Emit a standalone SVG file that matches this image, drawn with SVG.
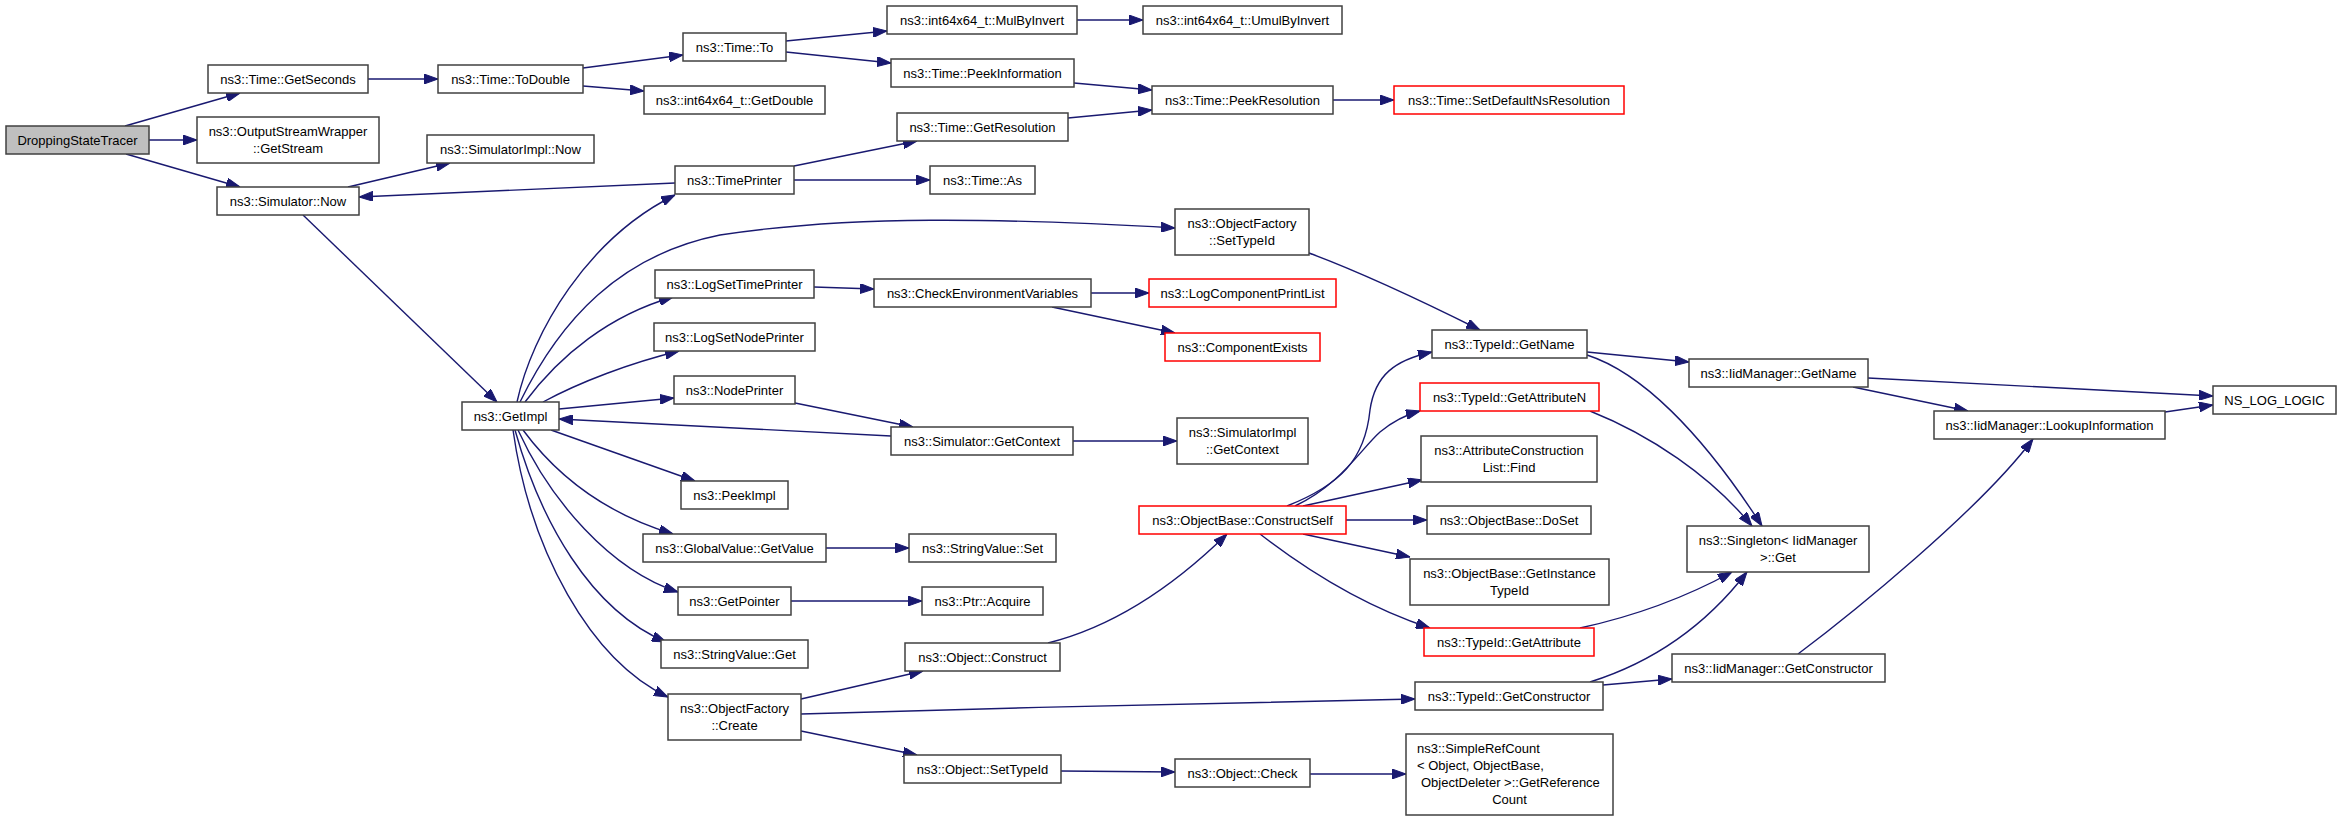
<svg xmlns="http://www.w3.org/2000/svg" width="2341" height="820" viewBox="0 0 2341 820">
<style>
rect{fill:#fff;stroke:#404040;stroke-width:1.5}
.root rect{fill:#bfbfbf}
.red rect{stroke:#ff0000}
text{font-family:"Liberation Sans",Arial,Helvetica,sans-serif;font-size:13px;text-anchor:middle;fill:#000}
.l{text-anchor:start}
#edges path{fill:none;stroke:#191970;stroke-width:1.4;marker-end:url(#a)}
</style>
<defs>
<marker id="a" markerUnits="userSpaceOnUse" markerWidth="14" markerHeight="10" viewBox="0 0 14 10" refX="14" refY="5" orient="auto">
<path d="M0,0 L14,5 L0,10 z" fill="#191970" stroke="#191970" stroke-width="1"/>
</marker>
</defs>
<rect x="0" y="0" width="2341" height="820" style="fill:#fff;stroke:none"/>
<g id="edges">
<path d="M125,126 L240,93"/>
<path d="M149,140 L197,140"/>
<path d="M126,154 L240,187"/>
<path d="M368,79 L438,79"/>
<path d="M583,68 L683,55"/>
<path d="M583,86 L644,91"/>
<path d="M786,41 L887,31"/>
<path d="M786,52 L891,63"/>
<path d="M1077,20 L1143,20"/>
<path d="M1074,83 L1152,90"/>
<path d="M1068,118 L1152,110"/>
<path d="M1333,100 L1394,100"/>
<path d="M348,187 L450,163"/>
<path d="M675,183 L359,197"/>
<path d="M303,215 L497,402"/>
<path d="M794,166 L917,141"/>
<path d="M794,180 L930,180"/>
<path d="M517,402 C532,332 588,238 675,195"/>
<path d="M520,402 C560,320 620,255 720,235 C850,215 1000,218 1175,228"/>
<path d="M525,402 C560,355 610,315 673,297"/>
<path d="M543,402 C580,382 630,363 679,351"/>
<path d="M559,409 L674,398"/>
<path d="M795,403 L913,427"/>
<path d="M891,436 L559,419"/>
<path d="M1073,441 L1177,441"/>
<path d="M551,430 L695,481"/>
<path d="M523,430 C560,480 610,515 673,534"/>
<path d="M518,430 C550,500 610,570 678,592"/>
<path d="M515,430 C540,520 590,610 666,642"/>
<path d="M513,430 C530,550 590,660 668,697"/>
<path d="M826,548 L909,548"/>
<path d="M791,601 L922,601"/>
<path d="M801,699 L923,671"/>
<path d="M801,714 C1000,708 1250,702 1415,699"/>
<path d="M801,731 L917,755"/>
<path d="M1061,771 L1175,772"/>
<path d="M1310,774 L1406,774"/>
<path d="M1048,643 C1120,625 1180,580 1227,534"/>
<path d="M814,287 L874,289"/>
<path d="M1091,293 L1149,293"/>
<path d="M1052,307 L1175,333"/>
<path d="M1309,253 C1360,272 1420,300 1480,330"/>
<path d="M1287,506 C1340,485 1365,460 1370,410 C1375,375 1395,360 1432,352"/>
<path d="M1295,506 C1340,485 1360,450 1380,432 C1392,422 1405,415 1420,411"/>
<path d="M1303,506 L1422,480"/>
<path d="M1346,520 L1427,520"/>
<path d="M1303,534 L1410,557"/>
<path d="M1260,534 C1300,565 1360,605 1430,628"/>
<path d="M1587,352 L1689,362"/>
<path d="M1587,355 C1640,372 1700,430 1762,526"/>
<path d="M1590,411 C1650,435 1710,475 1752,526"/>
<path d="M1868,378 L2213,396"/>
<path d="M1853,387 L1968,411"/>
<path d="M2165,412 L2213,405"/>
<path d="M1798,654 C1850,615 1980,510 2033,439"/>
<path d="M1603,685 L1672,679"/>
<path d="M1590,682 C1660,660 1710,620 1747,572"/>
<path d="M1580,628 C1640,615 1690,595 1732,572"/>
</g>
<g id="n0" class="root"><rect x="6" y="126" width="143" height="28"/><text x="77.5" y="144.5">DroppingStateTracer</text></g>
<g id="n1"><rect x="208" y="65" width="160" height="28"/><text x="288" y="83.5">ns3::Time::GetSeconds</text></g>
<g id="n2"><rect x="197" y="117" width="182" height="46"/><text x="288" y="135.5">ns3::OutputStreamWrapper</text><text x="288" y="152.5">::GetStream</text></g>
<g id="n3"><rect x="217" y="187" width="142" height="28"/><text x="288" y="205.5">ns3::Simulator::Now</text></g>
<g id="n4"><rect x="438" y="65" width="145" height="28"/><text x="510.5" y="83.5">ns3::Time::ToDouble</text></g>
<g id="n5"><rect x="683" y="33" width="103" height="28"/><text x="734.5" y="51.5">ns3::Time::To</text></g>
<g id="n6"><rect x="644" y="86" width="181" height="28"/><text x="734.5" y="104.5">ns3::int64x64_t::GetDouble</text></g>
<g id="n7"><rect x="427" y="135" width="167" height="28"/><text x="510.5" y="153.5">ns3::SimulatorImpl::Now</text></g>
<g id="n8"><rect x="675" y="166" width="119" height="28"/><text x="734.5" y="184.5">ns3::TimePrinter</text></g>
<g id="n9"><rect x="655" y="270" width="159" height="28"/><text x="734.5" y="288.5">ns3::LogSetTimePrinter</text></g>
<g id="n10"><rect x="654" y="323" width="161" height="28"/><text x="734.5" y="341.5">ns3::LogSetNodePrinter</text></g>
<g id="n11"><rect x="674" y="376" width="121" height="28"/><text x="734.5" y="394.5">ns3::NodePrinter</text></g>
<g id="n12"><rect x="462" y="402" width="97" height="28"/><text x="510.5" y="420.5">ns3::GetImpl</text></g>
<g id="n13"><rect x="681" y="481" width="107" height="28"/><text x="734.5" y="499.5">ns3::PeekImpl</text></g>
<g id="n14"><rect x="643" y="534" width="183" height="28"/><text x="734.5" y="552.5">ns3::GlobalValue::GetValue</text></g>
<g id="n15"><rect x="678" y="587" width="113" height="28"/><text x="734.5" y="605.5">ns3::GetPointer</text></g>
<g id="n16"><rect x="661" y="640" width="147" height="28"/><text x="734.5" y="658.5">ns3::StringValue::Get</text></g>
<g id="n17"><rect x="668" y="694" width="133" height="46"/><text x="734.5" y="712.5">ns3::ObjectFactory</text><text x="734.5" y="729.5">::Create</text></g>
<g id="n18"><rect x="887" y="6" width="190" height="28"/><text x="982" y="24.5">ns3::int64x64_t::MulByInvert</text></g>
<g id="n19"><rect x="1143" y="6" width="199" height="28"/><text x="1242.5" y="24.5">ns3::int64x64_t::UmulByInvert</text></g>
<g id="n20"><rect x="891" y="59" width="183" height="28"/><text x="982.5" y="77.5">ns3::Time::PeekInformation</text></g>
<g id="n21"><rect x="1152" y="86" width="181" height="28"/><text x="1242.5" y="104.5">ns3::Time::PeekResolution</text></g>
<g id="n22"><rect x="897" y="113" width="171" height="28"/><text x="982.5" y="131.5">ns3::Time::GetResolution</text></g>
<g id="n23"><rect x="930" y="166" width="105" height="28"/><text x="982.5" y="184.5">ns3::Time::As</text></g>
<g id="n24"><rect x="1175" y="209" width="134" height="46"/><text x="1242" y="227.5">ns3::ObjectFactory</text><text x="1242" y="244.5">::SetTypeId</text></g>
<g id="n25"><rect x="874" y="279" width="217" height="28"/><text x="982.5" y="297.5">ns3::CheckEnvironmentVariables</text></g>
<g id="n26" class="red"><rect x="1149" y="279" width="187" height="28"/><text x="1242.5" y="297.5">ns3::LogComponentPrintList</text></g>
<g id="n27" class="red"><rect x="1165" y="333" width="155" height="28"/><text x="1242.5" y="351.5">ns3::ComponentExists</text></g>
<g id="n28"><rect x="891" y="427" width="182" height="28"/><text x="982" y="445.5">ns3::Simulator::GetContext</text></g>
<g id="n29"><rect x="1177" y="418" width="131" height="46"/><text x="1242.5" y="436.5">ns3::SimulatorImpl</text><text x="1242.5" y="453.5">::GetContext</text></g>
<g id="n30" class="red"><rect x="1139" y="506" width="207" height="28"/><text x="1242.5" y="524.5">ns3::ObjectBase::ConstructSelf</text></g>
<g id="n31"><rect x="909" y="534" width="147" height="28"/><text x="982.5" y="552.5">ns3::StringValue::Set</text></g>
<g id="n32"><rect x="922" y="587" width="121" height="28"/><text x="982.5" y="605.5">ns3::Ptr::Acquire</text></g>
<g id="n33"><rect x="905" y="643" width="155" height="28"/><text x="982.5" y="661.5">ns3::Object::Construct</text></g>
<g id="n34"><rect x="904" y="755" width="157" height="28"/><text x="982.5" y="773.5">ns3::Object::SetTypeId</text></g>
<g id="n35"><rect x="1175" y="759" width="135" height="28"/><text x="1242.5" y="777.5">ns3::Object::Check</text></g>
<g id="n36" class="red"><rect x="1394" y="86" width="230" height="28"/><text x="1509" y="104.5">ns3::Time::SetDefaultNsResolution</text></g>
<g id="n37"><rect x="1432" y="330" width="155" height="28"/><text x="1509.5" y="348.5">ns3::TypeId::GetName</text></g>
<g id="n38"><rect x="1689" y="359" width="179" height="28"/><text x="1778.5" y="377.5">ns3::IidManager::GetName</text></g>
<g id="n39" class="red"><rect x="1420" y="383" width="179" height="28"/><text x="1509.5" y="401.5">ns3::TypeId::GetAttributeN</text></g>
<g id="n40"><rect x="1421" y="436" width="176" height="46"/><text x="1509" y="454.5">ns3::AttributeConstruction</text><text x="1509" y="471.5">List::Find</text></g>
<g id="n41"><rect x="1427" y="506" width="164" height="28"/><text x="1509" y="524.5">ns3::ObjectBase::DoSet</text></g>
<g id="n42"><rect x="1410" y="559" width="199" height="46"/><text x="1509.5" y="577.5">ns3::ObjectBase::GetInstance</text><text x="1509.5" y="594.5">TypeId</text></g>
<g id="n43" class="red"><rect x="1424" y="628" width="170" height="28"/><text x="1509" y="646.5">ns3::TypeId::GetAttribute</text></g>
<g id="n44"><rect x="1415" y="682" width="188" height="28"/><text x="1509" y="700.5">ns3::TypeId::GetConstructor</text></g>
<g id="n45"><rect x="1406" y="734" width="207" height="81"/><text class="l" x="1417" y="752.5">ns3::SimpleRefCount</text><text class="l" x="1417" y="769.7">&lt; Object, ObjectBase,</text><text class="l" x="1421" y="786.9">ObjectDeleter &gt;::GetReference</text><text x="1509.5" y="804.1">Count</text></g>
<g id="n46"><rect x="1687" y="526" width="182" height="46"/><text x="1778" y="544.5">ns3::Singleton&lt; IidManager</text><text x="1778" y="561.5">&gt;::Get</text></g>
<g id="n47"><rect x="1672" y="654" width="213" height="28"/><text x="1778.5" y="672.5">ns3::IidManager::GetConstructor</text></g>
<g id="n48"><rect x="2213" y="386" width="123" height="28"/><text x="2274.5" y="404.5">NS_LOG_LOGIC</text></g>
<g id="n49"><rect x="1934" y="411" width="231" height="28"/><text x="2049.5" y="429.5">ns3::IidManager::LookupInformation</text></g>
</svg>
